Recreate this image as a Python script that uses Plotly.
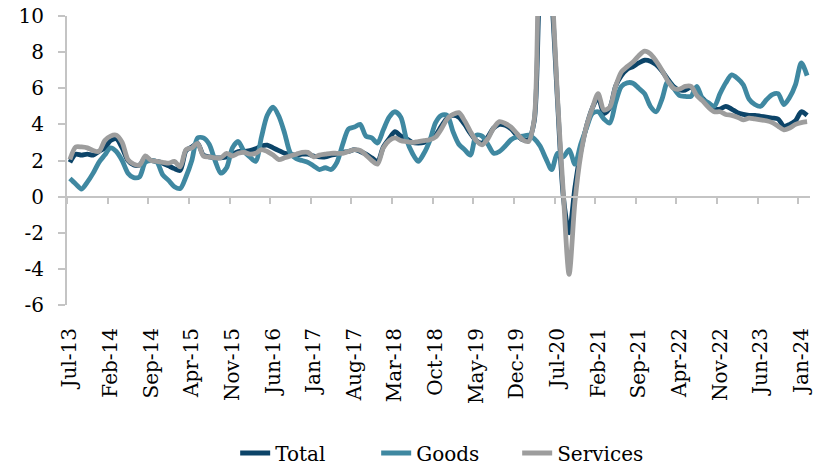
import pandas as pd
import plotly.graph_objects as go

# Monthly categories Jul-13 .. Feb-24
months = pd.date_range("2013-07-01", periods=128, freq="MS")
month_labels = [d.strftime("%b-%y") for d in months]

total = [
    1.9, 2.35, 2.3, 2.35, 2.3, 2.5, 2.7, 3.1, 3.2, 2.7,
    2.0, 1.75, 1.75, 2.15, 2.0, 1.95, 1.85, 1.7, 1.55, 1.45,
    2.55, 2.75, 2.95, 2.3, 2.2, 2.15, 2.15, 2.2, 2.35, 2.5,
    2.5, 2.55, 2.65, 2.8, 2.85, 2.7, 2.55, 2.4, 2.35, 2.3,
    2.35, 2.35, 2.25, 2.2, 2.2, 2.3, 2.35, 2.45, 2.5, 2.6,
    2.5, 2.35, 2.15, 1.95, 2.75, 3.2, 3.6, 3.35, 3.2, 3.0,
    2.97, 3.0, 3.15, 3.4, 3.9, 4.35, 4.5, 4.4, 4.0, 3.5,
    3.1, 2.97, 3.3, 3.8, 4.0, 3.95, 3.75, 3.4, 3.15, 3.15,
    4.2, 12.0, 14.0, 11.0, 5.3, 0.0, -2.0, 0.5, 2.5, 3.9,
    4.9, 5.5, 4.6, 4.9, 6.1, 6.7, 7.05, 7.2, 7.4, 7.55,
    7.5, 7.3, 6.95, 6.5, 6.1, 5.9, 5.9, 6.05, 5.7, 5.45,
    5.1, 4.85, 4.85, 5.0, 4.85, 4.65, 4.55, 4.5, 4.5, 4.45,
    4.4, 4.35, 4.3, 3.9, 4.0, 4.2, 4.7, 4.5,
]

goods = [
    1.0, 0.7, 0.42, 0.8, 1.3, 1.9, 2.3, 2.7, 2.5, 2.0,
    1.3, 1.05, 1.1, 1.9, 2.0, 1.9, 1.2, 0.9, 0.55, 0.45,
    1.1, 2.0, 3.25, 3.25, 2.9, 2.0, 1.3, 1.6, 2.7, 3.05,
    2.5, 2.2, 1.95, 3.3, 4.5, 4.95, 4.45, 3.5, 2.4, 2.1,
    2.0, 1.9, 1.7, 1.5, 1.6, 1.5, 1.9, 2.9, 3.75, 3.85,
    4.0, 3.35, 3.25, 2.97, 3.7, 4.4, 4.7, 4.4, 3.15, 2.4,
    1.95, 2.4, 3.1, 4.1, 4.5, 4.5, 3.6, 2.9, 2.6, 2.3,
    3.4, 3.35, 2.9, 2.4, 2.5, 2.8, 3.15, 3.3, 3.35, 3.4,
    3.2, 2.8, 2.1, 1.5, 2.4, 2.2, 2.6, 1.8, 2.9, 3.8,
    4.6, 4.7, 4.3, 4.07, 5.2, 6.1, 6.3, 6.28, 6.0, 5.7,
    5.0, 4.7, 5.4, 6.37, 6.0, 5.6, 5.55, 5.55, 6.1, 5.4,
    5.2, 5.0, 5.7, 6.3, 6.74, 6.55, 6.19, 5.4, 5.1, 5.0,
    5.36, 5.65, 5.7, 5.1, 5.5, 6.2, 7.4, 6.7,
]

services = [
    2.05, 2.75, 2.75, 2.7, 2.55, 2.5, 3.1, 3.35, 3.4, 3.0,
    2.05, 1.8, 1.75, 2.25, 2.0, 1.95, 1.9, 1.85, 1.95, 1.65,
    2.6, 2.7, 2.95, 2.25, 2.2, 2.15, 2.15, 2.4, 2.25, 2.4,
    2.45, 2.35, 2.4, 2.6, 2.5, 2.3, 2.05, 2.15, 2.25, 2.35,
    2.45, 2.45, 2.2, 2.3, 2.35, 2.4, 2.4, 2.4, 2.5, 2.6,
    2.55, 2.3, 2.0, 1.8, 2.7, 3.1, 3.25, 3.1, 3.05, 3.0,
    3.05, 3.1, 3.15, 3.3, 3.75, 4.3, 4.55, 4.65, 4.2, 3.6,
    3.1, 2.87, 3.2, 3.8, 4.15, 4.05, 3.85, 3.5, 3.15, 3.05,
    4.3, 15.0, 17.0, 12.0, 5.5, 0.2, -4.3, -0.3, 2.3, 3.9,
    4.9, 5.7, 4.8, 4.95, 6.1, 6.9, 7.2, 7.45, 7.8, 8.05,
    7.9, 7.5, 7.0, 6.4, 6.0, 5.95, 6.1, 6.1, 5.6, 5.3,
    4.95, 4.7, 4.7, 4.55, 4.5, 4.4, 4.25, 4.35, 4.3, 4.25,
    4.2, 4.1, 3.9, 3.7, 3.8, 4.0, 4.1, 4.15,
]

series_names = ["Total", "Goods", "Services"]
series_colors = ["#0C4468", "#3F88A1", "#9D9D9D"]

y_ticks = [-6, -4, -2, 0, 2, 4, 6, 8, 10]
label_step = 7

n = len(month_labels)
xs = list(range(n))
label_pos = xs[::label_step]
label_text = month_labels[::label_step]
boundary_pos = [p - 0.5 for p in label_pos]

FONT = "DejaVu Serif"
AXIS_GREY = "#C4C4C4"

fig = go.Figure()
for name, vals, col in zip(series_names, [total, goods, services], series_colors):
    fig.add_trace(go.Scatter(
        x=xs, y=vals, name=name, mode="lines",
        line=dict(color=col, width=4.8, shape="spline", smoothing=0.8),
    ))

# carrier trace for the zero-line axis with tick marks
fig.add_trace(go.Scatter(x=[0], y=[None], xaxis="x2", showlegend=False,
                         hoverinfo="skip", mode="lines"))

fig.update_layout(
    width=827, height=465,
    margin=dict(l=67, r=17, t=16, b=160, autoexpand=False),
    paper_bgcolor="white", plot_bgcolor="white",
    font=dict(family=FONT, size=20, color="#000000"),
    showlegend=True,
    legend=dict(orientation="h", x=0.511, xanchor="center",
                yref="container", y=12 / 465, yanchor="middle",
                font=dict(family=FONT, size=20, color="#000000"),
                entrywidth=96, tracegroupgap=0),
    xaxis=dict(
        range=[-0.5, n - 0.5], showline=False, showgrid=False, zeroline=False,
        automargin=False,
        tickmode="array", tickvals=label_pos, ticktext=label_text,
        tickangle=-90, ticks="", ticklabelstandoff=18,
        tickfont=dict(family=FONT, size=20, color="#000000"),
    ),
    xaxis2=dict(
        range=[-0.5, n - 0.5], overlaying="x", anchor="free", position=6 / 16,
        side="bottom", showline=True, linecolor=AXIS_GREY, linewidth=2,
        showgrid=False, zeroline=False, showticklabels=False, automargin=False,
        tickmode="array", tickvals=boundary_pos, ticks="outside",
        ticklen=6, tickwidth=1.5, tickcolor=AXIS_GREY,
    ),
    yaxis=dict(
        range=[-6, 10], showline=True, linecolor=AXIS_GREY, linewidth=2,
        showgrid=False, zeroline=False, automargin=False,
        tickmode="array", tickvals=y_ticks, ticktext=[str(v) for v in y_ticks],
        ticks="outside", ticklen=7, tickwidth=1.5, tickcolor=AXIS_GREY,
        ticklabelstandoff=10,
        tickfont=dict(family=FONT, size=20, color="#000000"),
    ),
)

fig.write_html("out.html", config={"displayModeBar": False},
               post_script="document.body.style.margin='0';")
